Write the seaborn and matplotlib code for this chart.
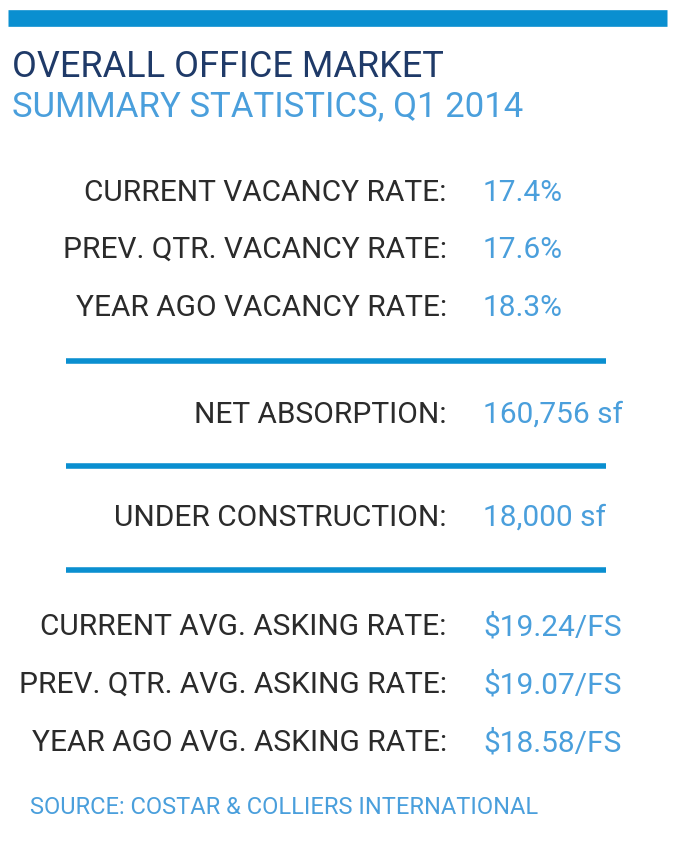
import matplotlib
matplotlib.use("Agg")
import matplotlib.pyplot as plt
import seaborn as sns

title_1 = "OVERALL OFFICE MARKET"
title_2 = "SUMMARY STATISTICS, Q1 2014"

group_labels = [
    ["CURRENT VACANCY RATE:", "PREV. QTR. VACANCY RATE:", "YEAR AGO VACANCY RATE:"],
    ["NET ABSORPTION:"],
    ["UNDER CONSTRUCTION:"],
    ["CURRENT AVG. ASKING RATE:", "PREV. QTR. AVG. ASKING RATE:", "YEAR AGO AVG. ASKING RATE:"],
]
group_values = [
    ["17.4%", "17.6%", "18.3%"],
    ["160,756 sf"],
    ["18,000 sf"],
    ["$19.24/FS", "$19.07/FS", "$18.58/FS"],
]
source = "SOURCE: COSTAR & COLLIERS INTERNATIONAL"

navy = "#1f3a68"
blue = "#0a8fd0"
light_blue = "#4a9fdc"
dark = "#2b2b2b"

sns.set_theme(style="white")
plt.rcParams['font.family'] = ['Roboto', 'DejaVu Sans']

fig = plt.figure(figsize=(6.8, 8.42), dpi=100)
ax = fig.add_axes([0, 0, 1, 1])
ax.set_xlim(0, 680)
ax.set_ylim(842, 0)
ax.axis("off")

# top bar
ax.hlines(18, 8, 667, color=blue, lw=12)

ax.text(12, 67, title_1, color=navy, fontsize=26, va="center", ha="left")
ax.text(12, 107, title_2, color=light_blue, fontsize=25, va="center", ha="left")

row_y = [[193, 250, 308], [415], [518], [627, 685, 743]]
sep_y = [361, 466, 570]

for labels, values, ys in zip(group_labels, group_values, row_y):
    for lab, val, y in zip(labels, values, ys):
        ax.text(447, y, lab, color=dark, fontsize=21.5, ha="right", va="center")
        ax.text(483, y, val, color=light_blue, fontsize=21.5, ha="left", va="center")

for y in sep_y:
    ax.hlines(y, 66, 606, color=blue, lw=4)

ax.text(30, 808, source, color=light_blue, fontsize=17, ha="left", va="center")

fig.savefig("out.png", dpi=100, facecolor="white")
